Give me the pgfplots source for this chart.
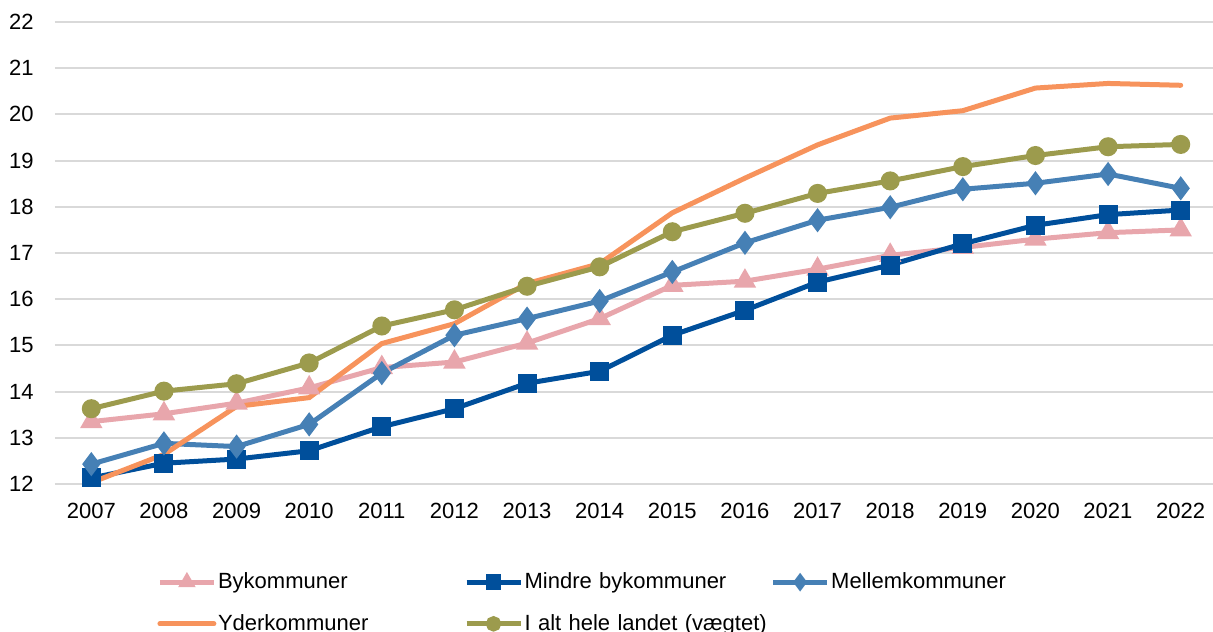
\documentclass[border=0pt]{standalone}
\usepackage{fontspec}
\setmainfont{Liberation Sans}
\usepackage{pgfplots}
\pgfplotsset{compat=1.18}
\definecolor{cpink}{RGB}{232,166,172}
\definecolor{cdark}{RGB}{0,79,155}
\definecolor{csteel}{RGB}{70,128,181}
\definecolor{corange}{RGB}{247,147,92}
\definecolor{colive}{RGB}{156,155,77}
\definecolor{cgrid}{RGB}{217,217,217}
\begin{document}
\fontsize{11pt}{13pt}\selectfont
\begin{tikzpicture}
\path[use as bounding box] (-27.5pt,-73.5pt) rectangle (579pt,242pt);
\begin{axis}[
  at={(0,0)}, anchor=south west,
  scale only axis, width=581pt, height=231pt,
  xmin=2006.5, xmax=2022.5, ymin=12, ymax=22,
  xtick={2007,...,2022}, ytick={12,...,22},
  xticklabel style={/pgf/number format/1000 sep={}, inner sep=0pt, anchor=north, yshift=-9.5pt},
  yticklabel style={inner sep=0pt, anchor=east, xshift=-10.5pt},
  /pgf/number format/assume math mode=true,
  xticklabel={\pgfmathprintnumber[1000 sep={}]{\tick}},
  major tick length=0pt,
  axis line style={draw=none},
  ymajorgrids, major grid style={cgrid, line width=1pt},
  clip=false,
  font=\fontsize{11pt}{13pt}\selectfont,
  every axis plot/.append style={line width=2.5pt},
  legend image code/.code={\draw[mark repeat=2,mark phase=2,#1,mark size=2.6pt] plot coordinates {(0pt,0pt) (13.5pt,0pt) (27pt,0pt)};},
  legend columns=3,
  legend style={draw=none, fill=none, inner sep=0pt, at={(0.0878,-0.182)}, anchor=north west,
    font=\fontsize{11pt}{13pt}\selectfont,
    row sep=7.2pt,
    /tikz/every odd column/.append style={column sep=-1.2pt},
    /tikz/every even column/.append style={text width=132pt, column sep=-11pt, text height=8pt, text depth=2.5pt}},
  legend cell align=left,
]
\addplot[cpink, mark=triangle*, mark size=4pt, mark options={solid}] coordinates {
(2007,13.35)(2008,13.52)(2009,13.75)(2010,14.08)(2011,14.52)(2012,14.64)(2013,15.05)(2014,15.58)
(2015,16.30)(2016,16.39)(2017,16.65)(2018,16.95)(2019,17.12)(2020,17.30)(2021,17.44)(2022,17.50)};
\addlegendentry{Bykommuner}
\addplot[cdark, mark=square*, mark size=3.5pt] coordinates {
(2007,12.13)(2008,12.45)(2009,12.54)(2010,12.72)(2011,13.24)(2012,13.63)(2013,14.18)(2014,14.44)
(2015,15.22)(2016,15.76)(2017,16.37)(2018,16.74)(2019,17.20)(2020,17.60)(2021,17.83)(2022,17.93)};
\addlegendentry{Mindre bykommuner}
\addplot[csteel, mark=diamond*, mark size=4pt] coordinates {
(2007,12.43)(2008,12.88)(2009,12.81)(2010,13.29)(2011,14.40)(2012,15.22)(2013,15.58)(2014,15.96)
(2015,16.59)(2016,17.22)(2017,17.71)(2018,17.99)(2019,18.38)(2020,18.51)(2021,18.71)(2022,18.40)};
\addlegendentry{Mellemkommuner}
\addplot[corange, no marks, line cap=round] coordinates {
(2007,12.03)(2008,12.64)(2009,13.68)(2010,13.87)(2011,15.04)(2012,15.47)(2013,16.34)(2014,16.77)
(2015,17.87)(2016,18.62)(2017,19.34)(2018,19.92)(2019,20.08)(2020,20.57)(2021,20.67)(2022,20.63)};
\addlegendentry{Yderkommuner}
\addplot[colive, mark=*, mark size=3.5pt] coordinates {
(2007,13.63)(2008,14.01)(2009,14.17)(2010,14.62)(2011,15.42)(2012,15.77)(2013,16.28)(2014,16.70)
(2015,17.46)(2016,17.86)(2017,18.29)(2018,18.56)(2019,18.87)(2020,19.11)(2021,19.30)(2022,19.35)};
\addlegendentry{I alt hele landet (vægtet)}
\end{axis}
\end{tikzpicture}
\end{document}
